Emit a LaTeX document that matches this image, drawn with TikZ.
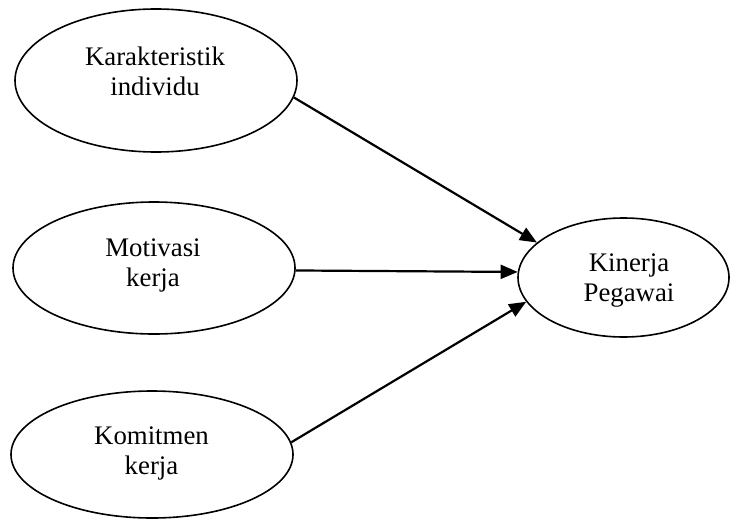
\documentclass[tikz,border=0pt]{standalone}
\usepackage{fontspec}
\setmainfont{Liberation Serif}
\usetikzlibrary{shapes.geometric,arrows.meta}
\begin{document}
\begin{tikzpicture}[x=0.5pt,y=-0.5pt,
  oval/.style={ellipse,draw,line width=0.8pt,inner sep=0pt},
  lbl/.style={align=center,inner sep=0pt,font=\fontsize{13.4}{15}\selectfont},
  arr/.style={line width=1.1pt,-{Triangle[length=8.5pt,width=7pt]}}]
\useasboundingbox (0,0) rectangle (731,519);
\node[oval,minimum width=141pt,minimum height=71.5pt] (e1) at (156,80.5) {};
\node[oval,minimum width=141pt,minimum height=66pt] (e2) at (154,268) {};
\node[oval,minimum width=141pt,minimum height=63.5pt] (e3) at (152,454.5) {};
\node[oval,minimum width=105.5pt,minimum height=59.5pt] (k) at (623.5,277.5) {};
\node[lbl] (t1) at (155,71.3) {Karakteristik\\individu};
\node[lbl] (t2) at (153,265.8) {Motivasi\\kerja};
\node[lbl] (t3) at (151.5,453.7) {Komitmen\\kerja};
\node[lbl] (t4) at (629,280.8) {Kinerja\\Pegawai};
\draw[arr] (e1.-7) -- (k.158);
\draw[arr] (e2.-1) -- (k.177);
\draw[arr] (e3.5) -- (k.194);
\end{tikzpicture}
\end{document}
